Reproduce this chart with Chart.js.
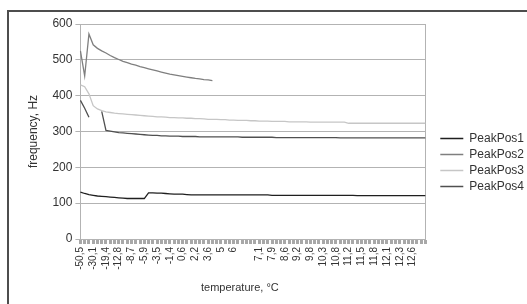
<!DOCTYPE html>
<html>
<head>
<meta charset="utf-8">
<script src="https://cdn.jsdelivr.net/npm/chart.js@4.4.0/dist/chart.umd.min.js"></script>
<style>
body { margin: 0; background: #fff; }
#wrap { position: relative; width: 527px; height: 304px; overflow: hidden; }
#frame { position: absolute; left: 7px; top: 10px; width: 600px; height: 400px; border: 2px solid #4d4d4d; box-sizing: border-box; }
#chart { position: absolute; left: 0; top: 0; }
</style>
</head>
<body>
<div id="wrap">
  <div id="frame"></div>
  <canvas id="chart" width="527" height="304"></canvas>
</div>
<script>
// temperature of each measurement, °C (null = no reading)
const temperatures = [
  -50.5, -42.0, -35.6, -30.1, -25.8, -22.3, -19.4, -17.0, -14.8, -12.8,
  -11.3, -9.9, -8.7, -7.7, -6.8, -5.9, -5.1, -4.3, -3.5, -2.8,
  -2.1, -1.4, -0.7, 0.0, 0.6, 1.1, 1.7, 2.2, 2.7, 3.2,
  3.6, 4.1, 4.5, 5.0, 5.3, 5.7, 6.0, 6.2, 6.4, null,
  6.8, 6.9, 7.1, 7.4, 7.6, 7.9, 8.1, 8.4, 8.6, 8.8,
  9.0, 9.2, 9.4, 9.6, 9.8, 10.0, 10.1, 10.3, 10.5, 10.6,
  10.8, 10.9, 11.1, 11.2, 11.3, 11.4, 11.5, 11.6, 11.7, 11.8,
  11.9, 12.0, 12.1, 12.2, 12.2, 12.3, 12.4, 12.5, 12.6, 12.6,
  12.7, 12.8
];
// labels printed under the axis, one every 3 categories
const tickLabels = [
  "-50,5", "-30,1", "-19,4", "-12,8", "-8,7", "-5,9", "-3,5", "-1,4", "0,6",
  "2,2", "3,6", "5", "6", "", "7,1", "7,9", "8,6", "9,2", "9,8", "10,3",
  "10,8", "11,2", "11,5", "11,8", "12,1", "12,3", "12,6"
];
const labelEvery = 3;
const xTitle = "temperature, °C";
const yTitle = "frequency, Hz";

const seriesNames = ["PeakPos1", "PeakPos2", "PeakPos3", "PeakPos4"];
const seriesColors = ["#1f1f1f", "#7f7f7f", "#c6c6c6", "#505050"];

const peakPos1 = [
  131, 127, 124, 122, 120, 119, 118, 117, 116, 115,
  114, 113, 113, 113, 113, 113, 129, 129, 128, 128,
  127, 126, 125, 125, 125, 124, 123, 123, 123, 123,
  123, 123, 123, 123, 123, 123, 123, 123, 123, 123,
  123, 123, 123, 123, 123, 122, 122, 122, 122, 122,
  122, 122, 122, 122, 122, 122, 122, 122, 122, 122,
  122, 122, 122, 122, 122, 121, 121, 121, 121, 121,
  121, 121, 121, 121, 121, 121, 121, 121, 121, 121,
  121, 121
];
const peakPos2 = [
  525, 455, 572, 542, 532, 525, 519, 512, 506, 501,
  496, 492, 488, 485, 481, 478, 475, 472, 469, 466,
  463, 460, 458, 456, 454, 452, 450, 448, 447, 445,
  444, 442
];
const peakPos3 = [
  430, 425, 405, 372, 363, 358, 355, 353, 351, 350,
  349, 348, 347, 346, 345, 344, 343, 342, 341, 341,
  340, 339, 339, 338, 338, 337, 337, 336, 336, 335,
  334, 334, 334, 333, 333, 332, 332, 331, 331, 331,
  330, 330, 329, 329, 329, 328, 328, 328, 328, 327,
  327, 327, 327, 327, 326, 326, 326, 326, 326, 326,
  326, 326, 326, 323, 323, 323, 323, 323, 323, 323,
  323, 323, 323, 323, 323, 323, 323, 323, 323, 323,
  323, 323
];
const peakPos4 = [
  387, 365, 340, null, null, 356, 303, 301, 299, 297,
  296, 295, 294, 293, 292, 291, 290, 289, 289, 288,
  288, 287, 287, 287, 286, 286, 286, 286, 285, 285,
  285, 285, 285, 285, 285, 285, 285, 285, 284, 284,
  284, 284, 284, 284, 284, 284, 283, 283, 283, 283,
  283, 283, 283, 283, 283, 283, 283, 283, 283, 283,
  283, 282, 282, 282, 282, 282, 282, 282, 282, 282,
  282, 282, 282, 282, 282, 282, 282, 282, 282, 282,
  282, 282
];
const yTicks = [0, 100, 200, 300, 400, 500, 600];

Chart.defaults.font.family = '"Liberation Sans", Arial, sans-serif';
Chart.defaults.color = '#333';

// right edge of the plot area
const plotFrame = {
  id: 'plotFrame',
  beforeDatasetsDraw(chart) {
    const a = chart.chartArea;
    const ctx = chart.ctx;
    ctx.save();
    ctx.strokeStyle = '#b3b3b3';
    ctx.lineWidth = 1;
    ctx.beginPath();
    ctx.moveTo(Math.round(a.right) + 0.5, a.top);
    ctx.lineTo(Math.round(a.right) + 0.5, a.bottom);
    ctx.stroke();
    ctx.restore();
  }
};

// push the legend a bit away from the plot
const legendShift = {
  id: 'legendShift',
  afterLayout(chart) {
    chart.legend.left += 11;
    chart.legend.right += 11;
    chart.legend.top += 1;
    chart.legend.bottom += 1;
  }
};

// x axis title sits a little left of the plot centre, like the original
const xAxisTitle = {
  id: 'xAxisTitle',
  afterDraw(chart) {
    const a = chart.chartArea;
    const sx = chart.scales.x;
    const ctx = chart.ctx;
    ctx.save();
    ctx.font = '11px "Liberation Sans", Arial, sans-serif';
    ctx.fillStyle = '#333';
    ctx.textAlign = 'center';
    ctx.textBaseline = 'middle';
    ctx.fillText(xTitle, (a.left + a.right) / 2 - 13, sx.bottom - 4 - 6.6);
    ctx.restore();
  }
};

const ctx = document.getElementById('chart').getContext('2d');

new Chart(ctx, {
  type: 'line',
  data: {
    labels: temperatures.map(t => (t === null ? '' : String(t).replace('.', ','))),
    datasets: [peakPos1, peakPos2, peakPos3, peakPos4].map((d, i) => ({
      label: seriesNames[i],
      data: d,
      borderColor: seriesColors[i],
      backgroundColor: seriesColors[i],
      borderWidth: 1.3,
      pointRadius: 0,
      tension: 0,
      fill: false
    }))
  },
  options: {
    responsive: false,
    animation: false,
    devicePixelRatio: 1,
    layout: { padding: { left: 22, top: 24, right: 4, bottom: 5 } },
    plugins: {
      tooltip: { enabled: false },
      legend: {
        position: 'right',
        labels: {
          usePointStyle: true,
          pointStyle: 'line',
          pointStyleWidth: 23,
          padding: 4,
          color: '#333',
          font: { size: 12 }
        }
      }
    },
    scales: {
      x: {
        grid: { drawOnChartArea: false, tickLength: 5, tickColor: '#a8a8a8', tickWidth: 3 },
        border: { color: '#b3b3b3' },
        ticks: {
          autoSkip: false,
          minRotation: 90,
          maxRotation: 90,
          padding: 3,
          font: { size: 10 },
          callback: (v, i) => (i % labelEvery === 0 ? (tickLabels[i / labelEvery] || '') : '')
        },
        // space for the title, which xAxisTitle draws
        title: { display: true, text: '', font: { size: 11 }, padding: { top: 9, bottom: 4 } }
      },
      y: {
        min: 0,
        max: 600,
        afterBuildTicks: (axis) => { axis.ticks = yTicks.map(v => ({ value: v })); },
        grid: { color: '#b3b3b3', tickLength: 5 },
        border: { color: '#b3b3b3' },
        ticks: { padding: 3, font: { size: 12 } },
        title: { display: true, text: yTitle, font: { size: 12 }, padding: { top: 4, bottom: 9 } }
      }
    }
  },
  plugins: [plotFrame, legendShift, xAxisTitle]
});
</script>
</body>
</html>
